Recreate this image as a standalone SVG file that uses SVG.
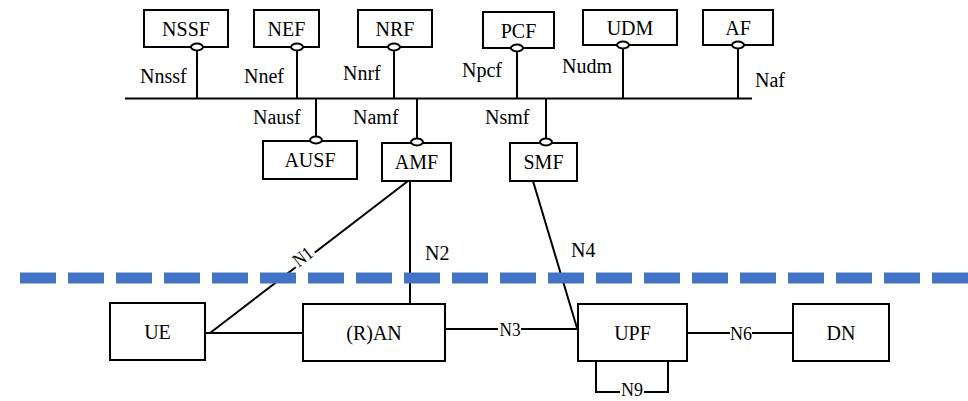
<svg xmlns="http://www.w3.org/2000/svg" width="968" height="401" viewBox="0 0 968 401">
<style>
.box{fill:#fff;stroke:#000;stroke-width:2}
.ln{fill:none;stroke:#000;stroke-width:2}
.ov{fill:#fff;stroke:#000;stroke-width:2}
text{font-family:'Liberation Serif','Tinos','DejaVu Serif',serif;fill:#000}
.t{font-size:20px;text-anchor:middle}
.l{font-size:20px}
.c{font-size:19px;text-anchor:middle}
</style>
<rect width="968" height="401" fill="#fff"/>
<g id="connectors">
<line class="ln" x1="125" y1="98.5" x2="752" y2="98.5"/>
<line class="ln" x1="197" y1="50" x2="197" y2="98"/>
<line class="ln" x1="297" y1="50" x2="297" y2="98"/>
<line class="ln" x1="394" y1="50" x2="394" y2="98"/>
<line class="ln" x1="517" y1="51" x2="517" y2="98"/>
<line class="ln" x1="623" y1="48" x2="623" y2="98"/>
<line class="ln" x1="738" y1="48" x2="738" y2="98"/>
<line class="ln" x1="316" y1="99" x2="316" y2="138"/>
<line class="ln" x1="417" y1="99" x2="417" y2="140"/>
<line class="ln" x1="546" y1="99" x2="546" y2="140"/>
<line class="ln" x1="410" y1="181" x2="410" y2="304"/>
<line class="ln" x1="533" y1="181" x2="577" y2="328"/>
<line class="ln" x1="205" y1="333" x2="303" y2="333"/>
<line class="ln" x1="210" y1="333" x2="408" y2="181"/>
<line class="ln" x1="445" y1="329" x2="498" y2="329"/>
<line class="ln" x1="521" y1="329" x2="577" y2="329"/>
<line class="ln" x1="687" y1="333" x2="730" y2="333"/>
<line class="ln" x1="752" y1="333" x2="793" y2="333"/>
<polyline class="ln" points="596,361 596,392 620,392"/>
<polyline class="ln" points="644,392 668,392 668,361"/>
<line x1="20" y1="278" x2="968" y2="278" stroke="#4472C4" stroke-width="11" stroke-dasharray="36 12"/>
<rect x="291" y="247" width="24" height="20" fill="#fff" transform="rotate(-37.5 303 257)"/>
<text class="c" x="303" y="263" textLength="20" lengthAdjust="spacingAndGlyphs" transform="rotate(-37.5 303 257)">N1</text>
<text class="l" x="425" y="260">N2</text>
<text class="c" x="510" y="336" textLength="21" lengthAdjust="spacingAndGlyphs">N3</text>
<text class="l" x="571" y="257">N4</text>
<text class="c" x="741" y="340" textLength="22" lengthAdjust="spacingAndGlyphs">N6</text>
<text class="c" x="632" y="396" textLength="22" lengthAdjust="spacingAndGlyphs">N9</text>
<text class="l" x="140" y="83">Nnssf</text>
<text class="l" x="244" y="83">Nnef</text>
<text class="l" x="343" y="80">Nnrf</text>
<text class="l" x="462" y="77">Npcf</text>
<text class="l" x="562" y="73">Nudm</text>
<text class="l" x="755" y="87">Naf</text>
<text class="l" x="253" y="124">Nausf</text>
<text class="l" x="353" y="124">Namf</text>
<text class="l" x="485" y="124">Nsmf</text>
</g>
<g id="NSSF"><rect class="box" x="144" y="10" width="84" height="37"/><text class="t" x="186" y="36">NSSF</text><ellipse class="ov" cx="197" cy="47" rx="6" ry="3.5"/></g>
<g id="NEF"><rect class="box" x="254" y="10" width="65" height="37"/><text class="t" x="286.5" y="36">NEF</text><ellipse class="ov" cx="297" cy="47" rx="6" ry="3.5"/></g>
<g id="NRF"><rect class="box" x="358" y="10" width="74" height="37"/><text class="t" x="395" y="36">NRF</text><ellipse class="ov" cx="394" cy="47" rx="6" ry="3.5"/></g>
<g id="PCF"><rect class="box" x="483" y="12" width="71" height="36"/><text class="t" x="518.5" y="38">PCF</text><ellipse class="ov" cx="517" cy="48" rx="6" ry="3.5"/></g>
<g id="UDM"><rect class="box" x="583" y="10" width="94" height="35"/><text class="t" x="630" y="35">UDM</text><ellipse class="ov" cx="623" cy="45" rx="6" ry="3.5"/></g>
<g id="AF"><rect class="box" x="703" y="10" width="70" height="35"/><text class="t" x="738" y="35">AF</text><ellipse class="ov" cx="738" cy="45" rx="6" ry="3.5"/></g>
<g id="AUSF"><rect class="box" x="263" y="141" width="94" height="38"/><text class="t" x="310" y="167">AUSF</text><ellipse class="ov" cx="316" cy="140" rx="6" ry="3.5"/></g>
<g id="AMF"><rect class="box" x="382" y="143" width="69" height="38"/><text class="t" x="416.5" y="169">AMF</text><ellipse class="ov" cx="417" cy="142" rx="6" ry="3.5"/></g>
<g id="SMF"><rect class="box" x="510" y="143" width="67" height="38"/><text class="t" x="543.5" y="169">SMF</text><ellipse class="ov" cx="546" cy="142" rx="6" ry="3.5"/></g>
<g id="UE"><rect class="box" x="110" y="303" width="95" height="57"/><text class="t" x="157.5" y="339">UE</text></g>
<g id="RAN"><rect class="box" x="303" y="304" width="142" height="57"/><text class="t" x="374" y="340">(R)AN</text></g>
<g id="UPF"><rect class="box" x="578" y="304" width="109" height="57"/><text class="t" x="632.5" y="340">UPF</text></g>
<g id="DN"><rect class="box" x="793" y="304" width="96" height="57"/><text class="t" x="841" y="340">DN</text></g>
</svg>
